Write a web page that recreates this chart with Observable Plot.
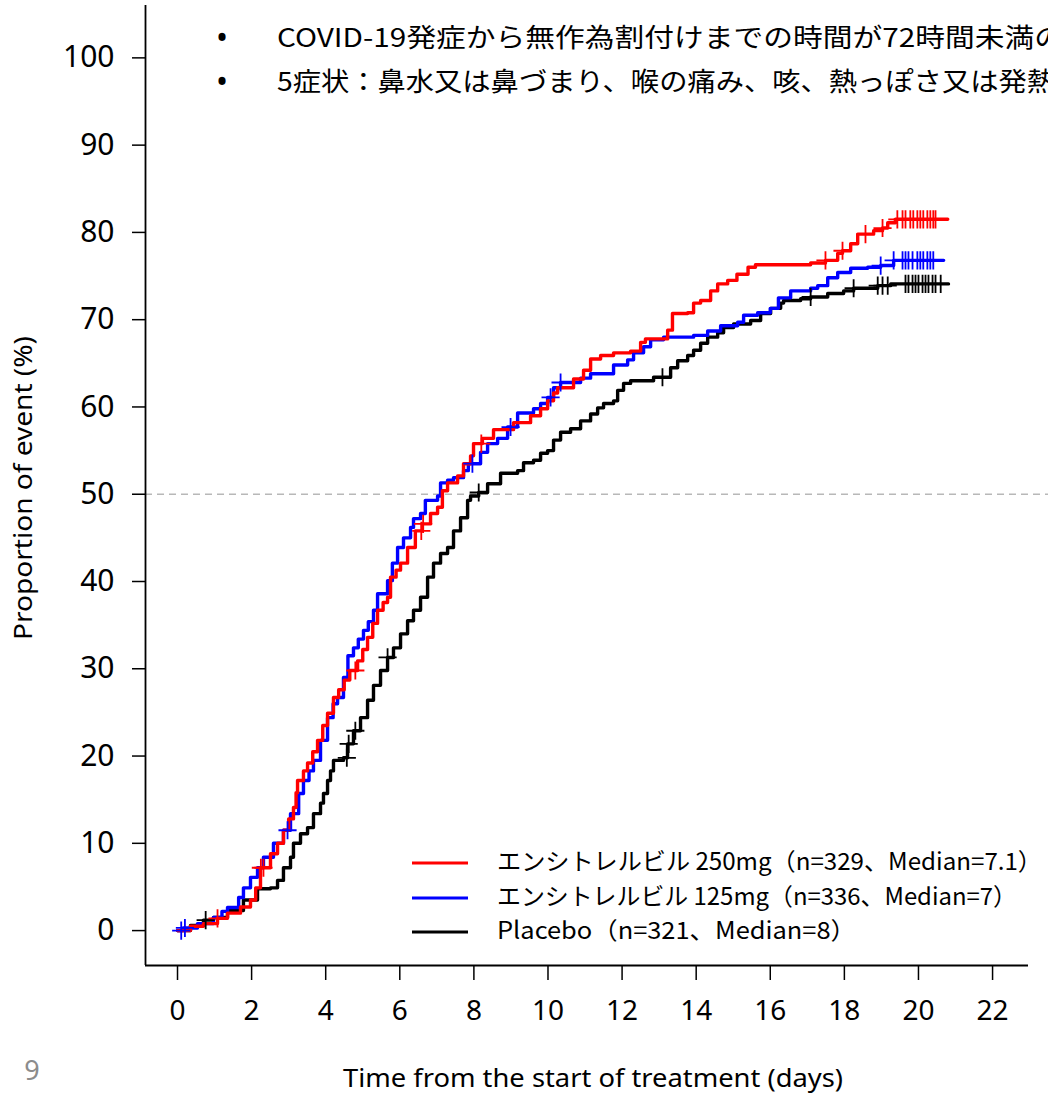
<!DOCTYPE html>
<html><head><meta charset="utf-8">
<script src="https://cdn.jsdelivr.net/npm/d3@7"></script>
<script src="https://cdn.jsdelivr.net/npm/@observablehq/plot@0.6"></script>
<style>
html,body{margin:0;padding:0;background:#fff;overflow:hidden;}
#chart{position:relative;width:1048px;height:1094px;overflow:hidden;background:#fff;}
#chart svg{display:block;}
</style></head><body><div id="chart"></div>
<script>
// ---- data ----
const seriesNames = ["エンシトレルビル 250mg", "エンシトレルビル 125mg", "Placebo"];
const seriesColors = ["#ff0000", "#0000ff", "#000000"];
const legendLabels = [
  "エンシトレルビル 250mg（n=329、Median=7.1）",
  "エンシトレルビル 125mg（n=336、Median=7）",
  "Placebo（n=321、Median=8）"
];
const bulletLines = [
  "COVID-19発症から無作為割付けまでの時間が72時間未満の",
  "5症状：鼻水又は鼻づまり、喉の痛み、咳、熱っぽさ又は発熱"
];
const xTicks = [0, 2, 4, 6, 8, 10, 12, 14, 16, 18, 20, 22];
const yTicks = [0, 10, 20, 30, 40, 50, 60, 70, 80, 90, 100];
const refLine = [50];
const xLabel = "Time from the start of treatment (days)";
const yLabel = "Proportion of event (%)";
const pageNumber = "9";

// [day, cumulative %] step points
const red250 = [
  [0,0],[0.35,0.5],[0.70,0.8],[1.08,1.4],[1.35,2.0],[1.70,2.7],[1.97,3.5],[2.11,4.9],[2.24,7.2],
  [2.51,8.8],[2.70,10.0],[2.86,11.5],[3.00,12.8],[3.13,14.1],[3.20,15.8],[3.24,17.2],[3.40,18.3],
  [3.51,19.2],[3.65,20.5],[3.78,21.8],[3.92,23.5],[4.05,24.9],[4.21,26.7],[4.35,27.6],[4.50,28.7],
  [4.65,29.8],[4.86,30.9],[5.00,32.2],[5.13,33.6],[5.27,35.2],[5.40,36.7],[5.55,37.6],[5.67,38.2],
  [5.75,40.5],[5.90,41.3],[6.02,42.1],[6.21,43.9],[6.42,45.8],[6.61,46.6],[6.83,47.8],[7.02,48.5],
  [7.15,50.4],[7.29,51.3],[7.56,52.1],[7.72,53.5],[7.91,54.4],[7.99,55.8],[8.23,56.4],[8.53,57.4],
  [9.07,58.2],[9.53,59.0],[9.80,59.8],[9.99,60.7],[10.15,61.6],[10.26,62.2],[10.69,63.2],[10.96,64.2],
  [11.15,65.5],[11.42,65.9],[11.77,66.2],[12.23,66.4],[12.50,67.4],[12.63,67.8],[13.23,68.8],[13.36,70.7],
  [13.77,70.8],[13.93,71.9],[14.12,72.2],[14.39,73.3],[14.58,74.1],[14.85,74.5],[15.10,75.2],[15.40,76.0],
  [15.60,76.3],[17.09,76.5],[17.49,76.8],[17.82,77.6],[17.95,77.9],[18.17,78.7],[18.36,79.8],[18.79,80.2],
  [19.03,80.5],[19.17,81.1],[19.38,81.5],[20.79,81.5]
];
const blue125 = [
  [0,0],[0.15,0.3],[0.54,0.8],[0.97,1.5],[1.20,2.2],[1.35,2.65],[1.65,3.8],[1.78,4.9],[1.97,6.1],
  [2.16,7.2],[2.32,8.4],[2.59,10.0],[2.86,11.5],[3.05,13.4],[3.27,15.7],[3.40,17.2],[3.55,18.3],
  [3.67,19.5],[3.86,21.8],[4.05,24.4],[4.20,26.0],[4.32,26.7],[4.48,29.0],[4.60,31.5],[4.75,32.4],
  [4.88,33.4],[5.02,34.4],[5.15,35.4],[5.29,36.7],[5.40,38.6],[5.67,40.1],[5.80,42.1],[5.94,43.9],
  [6.10,45.0],[6.29,46.2],[6.37,47.2],[6.56,47.8],[6.69,49.3],[7.02,49.8],[7.10,51.3],[7.29,51.6],
  [7.45,51.9],[7.72,52.7],[7.85,53.5],[8.18,54.8],[8.37,55.8],[8.64,56.4],[8.91,57.7],[9.18,59.3],
  [9.61,59.8],[9.80,60.4],[9.99,61.1],[10.15,62.2],[10.34,62.8],[10.88,63.3],[11.15,63.8],[11.77,64.8],
  [12.15,65.4],[12.31,66.2],[12.58,66.9],[12.77,67.7],[13.12,68.0],[13.93,68.2],[14.31,68.7],[14.66,69.3],
  [15.12,69.7],[15.28,70.5],[15.66,70.8],[16.00,71.3],[16.22,72.5],[16.55,73.3],[17.09,73.6],[17.28,73.9],
  [17.55,74.8],[17.82,75.4],[18.17,75.9],[18.63,76.0],[18.98,76.2],[19.33,76.8],[20.68,76.8]
];
const placebo = [
  [0,0],[0.35,0.6],[0.70,1.2],[0.97,1.5],[1.35,2.3],[1.78,3.5],[2.16,4.8],[2.51,4.9],[2.70,5.75],
  [2.86,7.2],[3.05,8.4],[3.13,10.0],[3.32,11.1],[3.51,11.8],[3.67,13.4],[3.86,14.6],[3.94,15.7],
  [4.05,17.2],[4.13,18.3],[4.21,19.5],[4.48,19.8],[4.59,21.4],[4.75,22.9],[4.94,24.4],[5.13,26.4],
  [5.29,28.1],[5.48,29.8],[5.67,31.3],[5.83,32.4],[6.02,34.0],[6.21,35.5],[6.37,36.7],[6.56,38.2],
  [6.75,40.5],[6.91,42.1],[7.10,43.2],[7.29,43.9],[7.45,45.8],[7.64,47.3],[7.83,49.3],[7.91,49.8],
  [8.13,50.2],[8.37,51.2],[8.72,52.4],[9.18,52.7],[9.34,53.6],[9.61,53.9],[9.80,54.7],[9.99,55.0],
  [10.15,56.2],[10.34,57.1],[10.61,57.5],[10.88,58.4],[11.15,59.2],[11.34,59.9],[11.50,60.4],[11.77,60.7],
  [11.88,61.9],[12.04,62.7],[12.23,63.0],[12.85,63.4],[13.31,64.5],[13.50,65.3],[13.77,65.9],[13.93,66.5],
  [14.12,67.3],[14.31,68.0],[14.58,68.5],[14.74,69.1],[15.01,69.5],[15.47,69.9],[15.74,70.7],[16.01,71.3],
  [16.28,71.9],[16.36,72.2],[16.82,72.4],[17.09,72.6],[17.55,73.0],[17.98,73.3],[18.25,73.6],[18.90,73.9],
  [19.25,74.1],[20.81,74.1]
];
// censoring times (+ marks)
const redCensor = [1.08,2.25,2.32,4.80,6.58,6.63,8.20,17.49,17.95,18.57,19.03,19.43,19.57,19.65,19.78,19.86,19.97,20.05,20.13,20.24,20.32,20.40,20.46];
const blueCensor = [0.10,0.20,2.97,7.96,8.99,10.07,10.34,18.98,19.33,19.57,19.65,19.73,19.84,19.97,20.05,20.13,20.24,20.32,20.40];
const placeboCensor = [0.76,4.57,4.62,4.80,5.67,8.13,13.09,17.09,18.25,18.90,19.03,19.17,19.65,19.73,19.84,19.92,20.00,20.11,20.19,20.27,20.38,20.46,20.60];

// ---- build ----
const curves = [red250, blue125, placebo];
const censors = [redCensor, blueCensor, placeboCensor];
function stepAt(s, t) { let v = s[0][1]; for (const [tt, vv] of s) { if (tt <= t) v = vv; else break; } return v; }
const rows = curves.map((c, i) => c.map(([t, p]) => ({series: seriesNames[i], t, p})));
const cens = censors.map((c, i) => c.map(t => ({series: seriesNames[i], t, p: stepAt(curves[i], t)})));

const xDomain = [-0.864, 22.97];
const yDomain = [-4, 106];
const JP = "'Noto Sans CJK JP', 'Noto Sans', sans-serif";

const order = [2, 1, 0]; // draw placebo, 125mg, 250mg
const chart = Plot.plot({
  width: 1048, height: 1094,
  marginLeft: 145, marginRight: 20, marginTop: 5, marginBottom: 129,
  x: {domain: xDomain},
  y: {domain: yDomain},
  style: {fontFamily: "'Noto Sans', 'Noto Sans CJK JP', sans-serif", background: "#fff", color: "#000"},
  marks: [
    Plot.ruleY(refLine, {x1: xDomain[0], x2: 23.55, stroke: "#b8b8b8", strokeWidth: 1.5, strokeDasharray: "7,5"}),
    ...order.map(i => Plot.line(rows[i], {x: "t", y: "p", curve: "step-after", stroke: seriesColors[i], strokeWidth: 3.4})),
    ...order.map(i => Plot.dot(cens[i], {x: "t", y: "p", symbol: "plus", r: 5.9, stroke: seriesColors[i], strokeWidth: 1.8})),
    Plot.ruleX([xDomain[0]], {y1: yDomain[0], y2: yDomain[1], stroke: "#000", strokeWidth: 1.8}),
    Plot.ruleY([yDomain[0]], {x1: xDomain[0], x2: xDomain[1], stroke: "#000", strokeWidth: 1.8}),
    Plot.axisX({ticks: xTicks, tickSize: 15, tickPadding: 20, fontSize: 28, label: null, strokeWidth: 1.5}),
    Plot.axisY({ticks: yTicks, tickSize: 13, tickPadding: 18, fontSize: 30, label: null, strokeWidth: 1.5})
  ]
});
document.getElementById("chart").appendChild(chart);

// ---- extra text: labels, legend, bullets ----
const svg = d3.select(chart);
svg.style("overflow", "hidden");
const g = svg.append("g").attr("text-anchor", "start");

g.append("text").attr("x", 593).attr("y", 1080).attr("text-anchor", "middle").attr("dominant-baseline", "middle")
  .attr("font-size", 26).attr("font-family", "'Noto Sans', sans-serif").attr("fill", "#000")
  .attr("textLength", 500).attr("lengthAdjust", "spacingAndGlyphs").text(xLabel);
g.append("text").attr("transform", "translate(25,488) rotate(-90)").attr("text-anchor", "middle").attr("dominant-baseline", "middle")
  .attr("font-size", 26).attr("font-family", "'Noto Sans', sans-serif").attr("fill", "#000")
  .attr("textLength", 304).attr("lengthAdjust", "spacingAndGlyphs").text(yLabel);
g.append("text").attr("x", 32).attr("y", 1073).attr("text-anchor", "middle").attr("dominant-baseline", "middle")
  .attr("font-size", 27).attr("font-family", "'Noto Sans', sans-serif").attr("fill", "#8c8c8c").text(pageNumber);

// legend
const legY = [863, 898, 932];
const legW = [545, 520, 359];
legendLabels.forEach((lab, i) => {
  g.append("line").attr("x1", 412).attr("x2", 468).attr("y1", legY[i]).attr("y2", legY[i])
    .attr("stroke", seriesColors[i]).attr("stroke-width", 3);
  g.append("text").attr("x", 497).attr("y", legY[i]).attr("text-anchor", "start").attr("dominant-baseline", "middle")
    .attr("font-size", 24).attr("font-family", JP).attr("fill", "#000")
    .attr("textLength", legW[i]).attr("lengthAdjust", "spacingAndGlyphs").text(lab);
});

// bullets
const bulY = [40, 84];
const bulW = [787, 778];
bulletLines.forEach((t, i) => {
  g.append("text").attr("x", 222).attr("y", bulY[i]).attr("text-anchor", "middle").attr("dominant-baseline", "middle")
    .attr("font-size", 32).attr("font-family", "'Noto Sans', sans-serif").attr("fill", "#000").text("•");
  g.append("text").attr("x", 277).attr("y", bulY[i]).attr("text-anchor", "start").attr("dominant-baseline", "middle")
    .attr("font-size", 26).attr("font-family", JP).attr("fill", "#000")
    .attr("textLength", bulW[i]).attr("lengthAdjust", "spacingAndGlyphs").text(t);
});
</script>
</body></html>
